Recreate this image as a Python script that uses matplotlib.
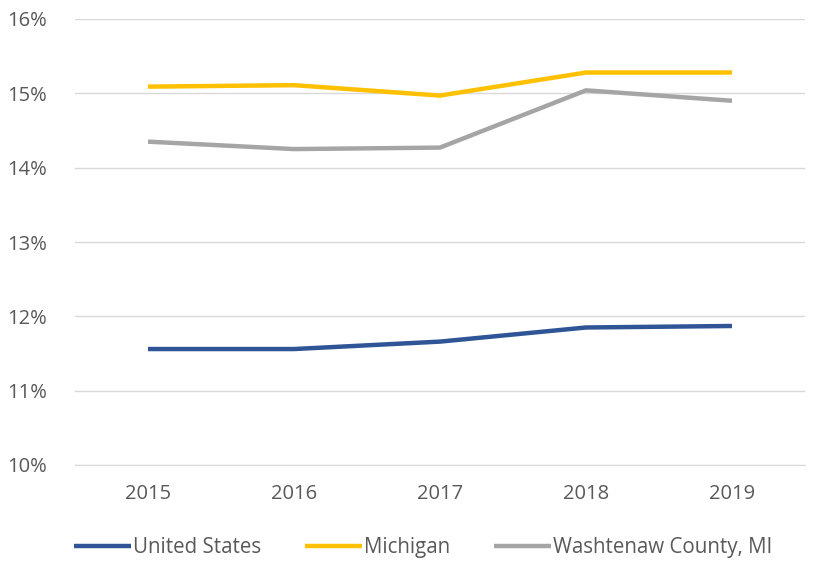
import matplotlib.pyplot as plt
from matplotlib.ticker import FuncFormatter

years = ["2015", "2016", "2017", "2018", "2019"]
united_states = [11.56, 11.56, 11.66, 11.85, 11.87]
michigan = [15.09, 15.11, 14.97, 15.28, 15.28]
washtenaw = [14.35, 14.25, 14.27, 15.04, 14.90]

plt.rcParams['font.family'] = ['Open Sans', 'DejaVu Sans']

fig = plt.figure(figsize=(8.14, 5.63), dpi=100)
ax = fig.add_axes([75 / 814, 1 - 465 / 563, 730 / 814, 446 / 563])

x = range(len(years))
ax.plot(x, united_states, color="#2F5597", lw=3.2, label="United States", solid_capstyle="butt")
ax.plot(x, michigan, color="#FFC000", lw=3.2, label="Michigan", solid_capstyle="butt")
ax.plot(x, washtenaw, color="#A5A5A5", lw=3.2, label="Washtenaw County, MI", solid_capstyle="butt")

ax.set_ylim(10, 16)
ax.set_yticks(range(10, 17))
ax.yaxis.set_major_formatter(FuncFormatter(lambda v, p: f"{v:.0f}%"))
ax.set_xlim(-0.5, 4.5)
ax.set_xticks(list(x))
ax.set_xticklabels(years)

ax.grid(axis="y", color="#D9D9D9", lw=1)
ax.set_axisbelow(True)
for s in ["top", "right", "left"]:
    ax.spines[s].set_visible(False)
ax.spines["bottom"].set_color("#D9D9D9")
ax.tick_params(length=0, labelsize=14.5, colors="#595959", pad=14)
ax.tick_params(axis="y", pad=20)

ax.legend(loc="center", bbox_to_anchor=(0.477, -0.185), ncol=3, frameon=False,
          fontsize=14.8, labelcolor="#595959", handlelength=2.8, handletextpad=0.1,
          columnspacing=2.1)

fig.savefig("out.png", dpi=100)
